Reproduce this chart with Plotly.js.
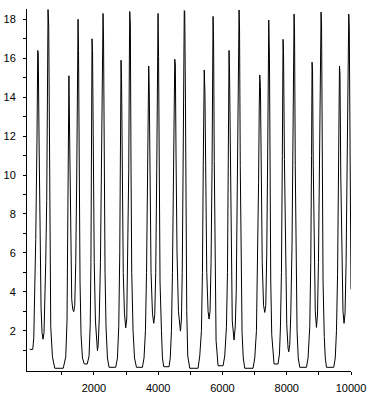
<!DOCTYPE html>
<html>
<head>
<meta charset="utf-8">
<script src="https://cdn.plot.ly/plotly-3.0.1.min.js"></script>
<style>
html,body{margin:0;padding:0;background:#fff;}
#chart{width:372px;height:400px;}
</style>
</head>
<body>
<div id="chart"></div>
<script>
// Values (time, value)
var time = [
  0, 93, 125, 156, 187, 227, 249, 265, 290, 321, 352, 383, 414,
  445, 476, 498, 529, 554, 570, 591, 613, 632, 654, 707, 778,
  1043, 1121, 1161, 1183, 1202, 1220, 1245, 1276, 1307, 1339, 1370,
  1401, 1432, 1463, 1488, 1504, 1519, 1541, 1566, 1597, 1641, 1697, 1790, 1846, 1883,
  1905, 1924, 1939, 1955, 1977, 2008, 2045, 2086, 2108, 2132, 2164, 2201, 2232, 2263, 2282, 2297, 2319, 2344, 2375, 2419, 2469,
  2677, 2730, 2771, 2802, 2823, 2842, 2858, 2880, 2911, 2948, 2988, 3020, 3051, 3082, 3101, 3113, 3132, 3153, 3175, 3216, 3262, 3322,
  3508, 3558, 3602, 3636, 3667, 3689, 3704, 3720, 3745, 3776, 3820, 3860, 3891, 3922, 3954, 3978, 3994, 4010, 4031, 4056, 4100, 4131, 4171,
  4336, 4374, 4411, 4442, 4473, 4498, 4514, 4532, 4554, 4585, 4629, 4691, 4722, 4747, 4772, 4794, 4810, 4825, 4847, 4866, 4887, 4919, 4981,
  5239, 5292, 5345, 5376, 5401, 5417, 5432, 5454, 5479, 5510, 5551, 5582, 5613, 5644, 5675, 5697, 5706, 5722, 5744, 5769, 5800, 5862,
  6018, 6070, 6123, 6155, 6179, 6195, 6204, 6220, 6242, 6266, 6304, 6360, 6397, 6428, 6460, 6494, 6516, 6531, 6553, 6578, 6609, 6646, 6693,
  6951, 7004, 7057, 7091, 7123, 7144, 7160, 7181, 7206, 7237, 7278, 7316, 7347, 7378, 7409, 7428, 7440, 7462, 7480, 7502, 7533, 7605,
  7729, 7773, 7804, 7835, 7863, 7885, 7900, 7928, 7960, 8000, 8041, 8063, 8094, 8125, 8165, 8196, 8218, 8228, 8243, 8265, 8290, 8321, 8358, 8405,
  8614, 8663, 8716, 8748, 8772, 8788, 8803, 8825, 8857, 8888, 8925, 8956, 8987, 9018, 9050, 9068, 9084, 9106, 9130, 9168, 9199, 9236,
  9463, 9510, 9548, 9582, 9613, 9632, 9641, 9657, 9682, 9713, 9750, 9784, 9815, 9847, 9878, 9909, 9930, 9946, 9971, 10000
];
var value = [
  1.04, 1.04, 1.6, 3.7, 6.7, 12, 16.4, 16.3, 11.8, 6.3, 3.2, 1.9, 1.56,
  1.9, 3.6, 5.5, 8.7, 16.1, 18.5, 17.6, 10.3, 5.3, 2.2, 0.66, 0.07,
  0.07, 0.66, 2.5, 6.5, 12.7, 15.1, 11.6, 6.5, 3.6, 3.1, 2.98,
  3.3, 5.5, 9.9, 16.7, 18.0, 16.4, 9.0, 4.5, 1.8, 0.6, 0.29, 0.29, 0.7, 2.3,
  5.5, 14.7, 17.0, 16.4, 10.6, 5.5, 2.5, 1.2, 0.97, 1.3, 2.6, 5.5, 9.6, 16.4, 18.3, 17.1, 10, 5, 2.2, 0.6, 0.12,
  0.12, 0.6, 2.2, 6, 14.7, 15.9, 14.9, 9.7, 5, 2.9, 2.15, 2.6, 5.5, 10.3, 15.9, 18.4, 17.7, 10.4, 5, 2.0, 0.6, 0.12,
  0.12, 0.6, 2.0, 5, 9.7, 15, 15.6, 14.4, 9.1, 5, 2.9, 2.38, 2.8, 5, 10.3, 17.4, 18.3, 16.1, 9.6, 4.5, 2.0, 0.6, 0.15,
  0.15, 0.6, 2.0, 5, 9.7, 13.7, 15.95, 15.7, 11, 6, 3, 1.98, 2.6, 5, 10, 16, 18.45, 18.4, 13.8, 7, 3, 0.7, 0.07,
  0.07, 0.7, 2.0, 5, 10.5, 14.7, 15.4, 14.2, 9.5, 5, 3, 2.6, 3, 5.5, 10.4, 16, 18.15, 17, 10.7, 4.5, 1.5, 0.2,
  0.2, 0.7, 2.2, 5, 10.3, 15.7, 16.4, 15.2, 10.7, 5.5, 2.5, 1.52, 2.2, 4, 8.5, 14.5, 18.48, 17.4, 10.5, 4.8, 1.9, 0.6, 0.07,
  0.07, 0.6, 2.0, 4.9, 9.6, 13.5, 15.14, 14.5, 10, 5.5, 3.3, 2.94, 3.3, 6, 11.5, 16.5, 17.96, 16, 10.3, 4.5, 1.8, 0.29,
  0.29, 0.8, 2.2, 5, 11, 16.97, 16.3, 10.8, 5.5, 2.3, 1.1, 0.92, 1.3, 2.8, 6.5, 11, 16.2, 18.27, 17.3, 10.5, 4.8, 2, 0.6, 0.12,
  0.12, 0.6, 2.2, 5.5, 11, 15.8, 15.4, 10.5, 5.5, 3, 2.17, 2.8, 5.5, 10.5, 16.5, 18.37, 17.6, 10.5, 4.5, 1.7, 0.6, 0.12,
  0.12, 0.6, 2.0, 4.9, 10, 14.5, 15.6, 15.2, 10, 5.5, 3, 2.38, 2.9, 5.5, 10.6, 17, 18.27, 17.6, 12, 4.13
];
var xTickVals = [2000, 4000, 6000, 8000, 10000];
var xMinorVals = [1000, 3000, 5000, 7000, 9000];
var yTickVals = [2, 4, 6, 8, 10, 12, 14, 16, 18];
var yMinorVals = [1, 3, 5, 7, 9, 11, 13, 15, 17];

var trace = {
  x: time,
  y: value,
  type: 'scatter',
  mode: 'lines',
  line: {color: '#000000', width: 1},
  hoverinfo: 'skip'
};

var tickFont = {family: 'Liberation Sans, Arial, sans-serif', size: 11, color: '#000000'};

var layout = {
  width: 372,
  height: 400,
  margin: {l: 27, r: 21, t: 9, b: 29, pad: 0},
  paper_bgcolor: '#ffffff',
  plot_bgcolor: '#ffffff',
  showlegend: false,
  xaxis: {
    range: [-85, 10000],
    showgrid: false,
    zeroline: false,
    showline: true,
    linecolor: '#000000',
    linewidth: 1,
    ticks: 'outside',
    ticklen: 3,
    tickwidth: 1,
    tickcolor: '#000000',
    tickmode: 'array',
    tickvals: xTickVals,
    ticktext: xTickVals.map(String),
    tickfont: tickFont,
    ticklabelstandoff: 4,
    minor: {tickmode: 'array', tickvals: xMinorVals, ticks: 'outside', ticklen: 3, tickwidth: 1, tickcolor: '#000000', showgrid: false}
  },
  yaxis: {
    range: [-0.07, 18.53],
    showgrid: false,
    zeroline: false,
    showline: true,
    linecolor: '#000000',
    linewidth: 1,
    ticks: 'outside',
    ticklen: 3,
    tickwidth: 1,
    tickcolor: '#000000',
    tickmode: 'array',
    tickvals: yTickVals,
    ticktext: yTickVals.map(String),
    tickfont: tickFont,
    ticklabelstandoff: 5,
    minor: {tickmode: 'array', tickvals: yMinorVals, ticks: 'outside', ticklen: 3, tickwidth: 1, tickcolor: '#000000', showgrid: false}
  }
};

Plotly.newPlot('chart', [trace], layout, {staticPlot: true, displayModeBar: false});
</script>
</body>
</html>
